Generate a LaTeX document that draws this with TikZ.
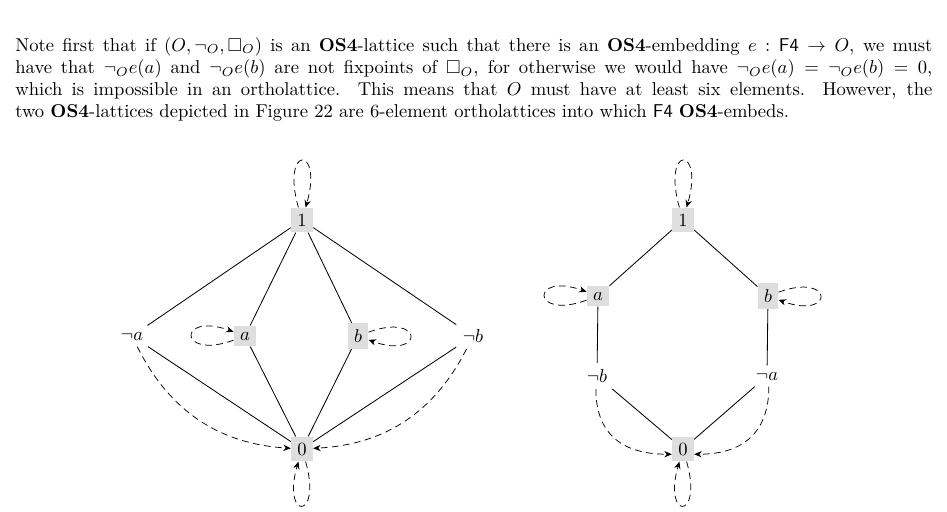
\documentclass[tikz,border=0pt]{standalone}
\usepackage{amssymb}
\usetikzlibrary{arrows.meta}
\begin{document}
\begin{tikzpicture}[x=0.5376pt,y=-0.5376pt,
  plain/.style={inner sep=3.33pt},
  gnode/.style={fill=black!13, inner sep=3.33pt},
  dl/.style={dash pattern=on 3.6pt off 2.4pt, -{Stealth[length=4pt,width=3.4pt]}},
  ln/.style={line width=0.45pt}]
\useasboundingbox (0,0) rectangle (947,511);
\node[anchor=base west, inner sep=0] (txt) at (15,51) {\parbox[t]{493pt}{%
\makebox[\linewidth][s]{Note first that if $(O,\neg_O,\Box_O)$ is an \textbf{OS4}-lattice such that there is an \textbf{OS4}-embedding $e:\textsf{F4}\to O$, we must}\\
\makebox[\linewidth][s]{have that $\neg_O e(a)$ and $\neg_O e(b)$ are not fixpoints of $\Box_O$, for otherwise we would have $\neg_O e(a)=\neg_O e(b)=0$,}\\
\makebox[\linewidth][s]{which is impossible in an ortholattice. This means that $O$ must have at least six elements. However, the}\\
two \textbf{OS4}-lattices depicted in Figure 22 are 6-element ortholattices into which \textsf{F4} \textbf{OS4}-embeds.}};
% left lattice
\node[gnode] (L1) at (302,220) {$1$};
\node[gnode] (La) at (245,336) {$a$};
\node[gnode] (Lb) at (358,336) {$b$};
\node[plain] (Lna) at (132,336) {$\neg a$};
\node[plain] (Lnb) at (473,336) {$\neg b$};
\node[gnode] (L0) at (302,449) {$0$};
\draw[ln] (L1) -- (Lna);
\draw[ln] (L1) -- (La);
\draw[ln] (L1) -- (Lb);
\draw[ln] (L1) -- (Lnb);
\draw[ln] (Lna) -- (L0);
\draw[ln] (La) -- (L0);
\draw[ln] (Lb) -- (L0);
\draw[ln] (Lnb) -- (L0);
\draw[dl] (L1) to[out=106,in=74,distance=35pt] (L1);
\draw[dl] (L0) to[out=-74,in=-106,distance=33pt] (L0);
\draw[dl] (La) to[out=200,in=160,distance=32pt] (La);
\draw[dl] (Lb) to[out=20,in=-20,distance=32pt] (Lb);
\draw[dl] (Lna) to[bend right=30] (L0);
\draw[dl] (Lnb) to[bend left=30] (L0);
% right lattice
\node[gnode] (R1) at (683,220) {$1$};
\node[gnode] (Ra) at (598,296) {$a$};
\node[gnode] (Rb) at (768,296) {$b$};
\node[plain] (Rnb) at (597,376) {$\neg b$};
\node[plain] (Rna) at (767,376) {$\neg a$};
\node[gnode] (R0) at (683,449) {$0$};
\draw[ln] (R1) -- (Ra);
\draw[ln] (R1) -- (Rb);
\draw[ln] (Ra) -- (Rnb);
\draw[ln] (Rb) -- (Rna);
\draw[ln] (Rnb) -- (R0);
\draw[ln] (Rna) -- (R0);
\draw[dl] (R1) to[out=106,in=74,distance=35pt] (R1);
\draw[dl] (R0) to[out=-74,in=-106,distance=33pt] (R0);
\draw[dl] (Ra) to[out=200,in=160,distance=32pt] (Ra);
\draw[dl] (Rb) to[out=20,in=-20,distance=32pt] (Rb);
\draw[dl] (Rnb.-95) to[out=-90,in=180,looseness=1.2] (R0.205);
\draw[dl] (Rna.-80) to[out=-90,in=0,looseness=1.2] (R0.-25);
\end{tikzpicture}
\end{document}
